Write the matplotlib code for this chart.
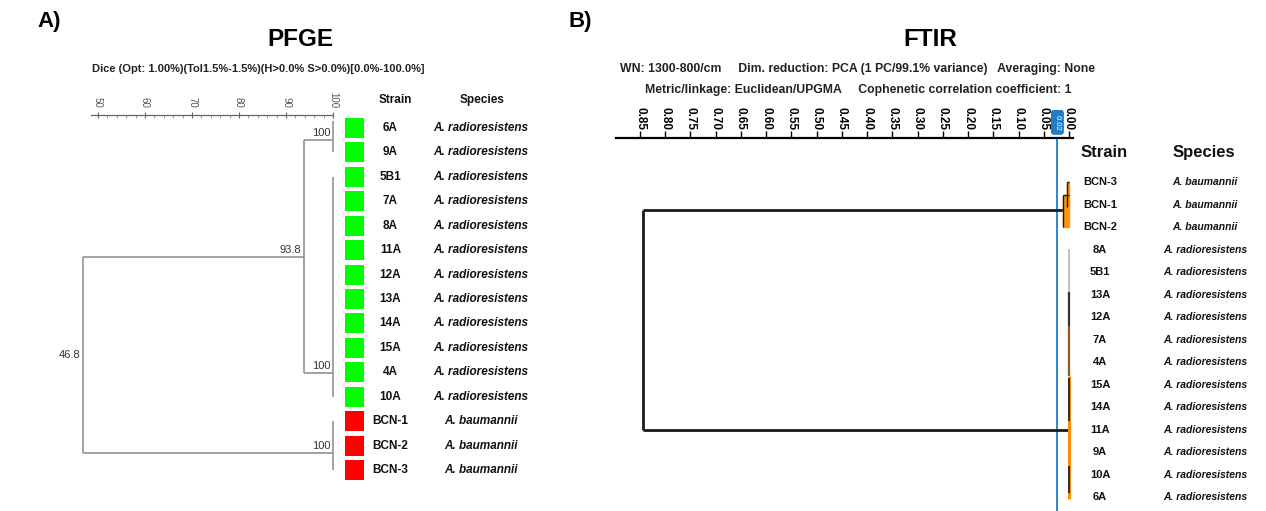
import numpy as np
import matplotlib
matplotlib.use("Agg")
import matplotlib.pyplot as plt
from matplotlib.ticker import FixedLocator

plt.rcParams['font.family'] = ['Liberation Sans', 'DejaVu Sans']

W, H = 1266, 511

# ---------------- PFGE (Dice / UPGMA) ----------------
pfge_strains = ['6A', '9A', '5B1', '7A', '8A', '11A', '12A', '13A', '14A',
                '15A', '4A', '10A', 'BCN-1', 'BCN-2', 'BCN-3']
pfge_species = ['A. radioresistens'] * 12 + ['A. baumannii'] * 3
pfge_colors = ['#00ff00'] * 12 + ['#ff0000'] * 3
pfge_ticks = [50, 60, 70, 80, 90, 100]

# tree nodes: similarity, vertical span (rows), row of link to parent, parent similarity
pfge_node_sim = [100, 100, 100, 93.8, 46.8]
pfge_node_top = [-0.3, 2.0, 12.0, 0.49, 5.28]
pfge_node_bot = [1.0, 11.0, 14.0, 10.03, 13.3]
pfge_node_link = [0.49, 10.03, 13.3, 5.28, np.nan]
pfge_node_parent = [93.8, 93.8, 46.8, 46.8, np.nan]
pfge_node_label = ['100', '100', '100', '93.8', '46.8']

# ---------------- FTIR (Euclidean / UPGMA) ----------------
ftir_strains = ['BCN-3', 'BCN-1', 'BCN-2', '8A', '5B1', '13A', '12A', '7A',
                '4A', '15A', '14A', '11A', '9A', '10A', '6A']
ftir_species = ['A. baumannii'] * 3 + ['A. radioresistens'] * 12
ftir_ticks = [0.85, 0.80, 0.75, 0.70, 0.65, 0.60, 0.55, 0.50, 0.45,
              0.40, 0.35, 0.30, 0.25, 0.20, 0.15, 0.10, 0.05, 0.00]
ftir_root = 0.845
ftir_link_rows = [1.24, 11.0]
ftir_link_dist = [0.012, 0.001]
ftir_cutoff = 0.023
# A. baumannii sub-clusters: distance, top row, bottom row
bau_dist = [0.012, 0.004]
bau_top = [0.6, 0.0]
bau_bot = [2.0, 1.1]
# A. radioresistens cluster (near zero distance) drawn as coloured segments
rad_dist = 0.0008
rad_seg_start = [3.0, 4.9, 6.4, 8.6, 8.7, 12.6]
rad_seg_end = [4.9, 6.4, 8.6, 14.1, 10.6, 13.8]
rad_seg_color = ['#b8b8b8', '#333333', '#8b5a2b', '#ff8c00', '#2a2a3a', '#2a2a3a']
rad_seg_lw = [1.2, 1.6, 1.6, 2.2, 1.4, 1.4]


def add_px_axes(fig, x0, x1, y0, y1):
    return fig.add_axes([x0 / W, 1 - y1 / H, (x1 - x0) / W, (y1 - y0) / H])


def ftext(fig, x, y, s, **kw):
    fig.text(x / W, 1 - y / H, s, **kw)


fig = plt.figure(figsize=(W / 100, H / 100), dpi=100)

# ======================= A) PFGE =======================
axA = add_px_axes(fig, 40, 545, 115, 505)
sx, s100 = 4.7, 333          # px per % and px position of 100 %
r0, rs = 128, 24.43          # px of first row and px per row
axA.set_xlim(100 - (s100 - 40) / sx, 100 + (545 - s100) / sx)
axA.set_ylim((505 - r0) / rs, (115 - r0) / rs)

rows = np.arange(len(pfge_strains))
gray = '#8a8a8a'
for s, t, b, l, p in zip(pfge_node_sim, pfge_node_top, pfge_node_bot,
                         pfge_node_link, pfge_node_parent):
    axA.vlines(s, t, b, color=gray, lw=1.1)
    if not np.isnan(l):
        axA.hlines(l, p, s, color=gray, lw=1.1)

for s, t, b, l, lab in zip(pfge_node_sim, pfge_node_top, pfge_node_bot,
                           pfge_node_link, pfge_node_label):
    if np.isnan(l):
        axA.text(s - 0.5, (t + b) / 2, lab, ha='right', va='center',
                 fontsize=8, color='#333333')
    else:
        axA.text(s - 0.6, l - 0.08, lab, ha='right', va='bottom',
                 fontsize=8, color='#333333')

axA.barh(rows, 4.05, left=102.55, height=0.82, color=pfge_colors)
for r, st, sp in zip(rows, pfge_strains, pfge_species):
    axA.text(112.2, r, st, ha='center', va='center', fontsize=8.5,
             fontweight='bold', color='#111111')
    axA.text(131.5, r, sp, ha='center', va='center', fontsize=8.5,
             fontweight='bold', style='italic', color='#111111')
axA.text(113.2, -1.15, 'Strain', ha='center', va='center', fontsize=8.5,
         fontweight='bold', color='#111111')
axA.text(131.8, -1.15, 'Species', ha='center', va='center', fontsize=8.5,
         fontweight='bold', color='#111111')

for side in ['left', 'right', 'bottom']:
    axA.spines[side].set_visible(False)
axA.spines['top'].set_bounds(48.5, 100)
axA.spines['top'].set_color('#666666')
axA.spines['top'].set_linewidth(0.9)
axA.xaxis.tick_top()
axA.xaxis.set_major_locator(FixedLocator(pfge_ticks))
axA.xaxis.set_minor_locator(FixedLocator(np.arange(50, 100, 2)))
axA.set_xticklabels([str(t) for t in pfge_ticks], rotation=270,
                    fontsize=7, color='#555555')
axA.tick_params(axis='x', which='major', direction='inout', length=4,
                color='#666666', pad=3)
axA.tick_params(axis='x', which='minor', direction='in', length=2,
                color='#888888')
axA.set_yticks([])

ftext(fig, 37, 22, 'A)', fontsize=16, fontweight='bold', va='center')
ftext(fig, 300, 39, 'PFGE', fontsize=17.5, fontweight='bold', ha='center', va='center')
ftext(fig, 258, 69, 'Dice (Opt: 1.00%)(Tol1.5%-1.5%)(H>0.0% S>0.0%)[0.0%-100.0%]',
      fontsize=8, fontweight='bold', ha='center', va='center', color='#222222')

# ======================= B) FTIR =======================
axB = add_px_axes(fig, 600, 1266, 138, 511)
d0, dx = 1069, 504.7         # px of distance 0 and px per unit
q0, qs = 182, 22.5           # px of first row and px per row
axB.set_xlim((d0 - 600) / dx, (d0 - 1266) / dx)
axB.set_ylim((511 - q0) / qs, (138 - q0) / qs)

frows = np.arange(len(ftir_strains))
axB.axvline(ftir_cutoff, color='#1f7dc9', lw=1.3, zorder=1)
axB.text(ftir_cutoff, -2.65, ' 0.02 ', rotation=270, ha='center', va='center',
         fontsize=5.5, color='white', clip_on=False,
         bbox=dict(boxstyle='round,pad=0.3', fc='#1f7dc9', ec='#1f7dc9'))

# main links
axB.vlines(ftir_root, ftir_link_rows[0], ftir_link_rows[1], color='#1a1a1a', lw=2)
for r, d in zip(ftir_link_rows, ftir_link_dist):
    axB.hlines(r, ftir_root, d, color='#1a1a1a', lw=2)

# A. baumannii sub-clusters (orange shaded)
for d, t, b in zip(bau_dist, bau_top, bau_bot):
    axB.fill_betweenx([t, b], d, 0, color='#ff9410', zorder=2)
    axB.vlines(d, t, b, color='#1a1a1a', lw=1, zorder=3)
    axB.hlines(t, d, 0, color='#1a1a1a', lw=1, zorder=3)

# A. radioresistens cluster
for a, b, c, w in zip(rad_seg_start, rad_seg_end, rad_seg_color, rad_seg_lw):
    axB.vlines(rad_dist, a, b, color=c, lw=w, zorder=3)

for r, st, sp in zip(frows, ftir_strains, ftir_species):
    axB.text(-0.0614, r, st, ha='center', va='center', fontsize=8,
             fontweight='bold', color='#111111')
    axB.text(-0.2695, r, sp, ha='center', va='center', fontsize=7.5,
             fontweight='bold', style='italic', color='#111111')
axB.text(-0.0690, -1.33, 'Strain', ha='center', va='center', fontsize=12,
         fontweight='bold', color='#111111')
axB.text(-0.2680, -1.33, 'Species', ha='center', va='center', fontsize=12,
         fontweight='bold', color='#111111')

for side in ['left', 'right', 'bottom']:
    axB.spines[side].set_visible(False)
axB.spines['top'].set_bounds(-0.008, 0.898)
axB.spines['top'].set_linewidth(1.6)
axB.xaxis.tick_top()
axB.set_xticks(ftir_ticks)
axB.set_xticklabels(['%.2f' % t for t in ftir_ticks], rotation=270,
                    fontsize=8.5, fontweight='bold')
axB.tick_params(axis='x', direction='out', length=5, width=1, pad=1)
axB.set_yticks([])

ftext(fig, 568, 22, 'B)', fontsize=16, fontweight='bold', va='center')
ftext(fig, 930, 39, 'FTIR', fontsize=17.5, fontweight='bold', ha='center', va='center')
ftext(fig, 858, 69, 'WN: 1300-800/cm     Dim. reduction: PCA (1 PC/99.1% variance)   Averaging: None',
      fontsize=8.8, fontweight='bold', ha='center', va='center', color='#222222')
ftext(fig, 858, 90, 'Metric/linkage: Euclidean/UPGMA     Cophenetic correlation coefficient: 1',
      fontsize=8.8, fontweight='bold', ha='center', va='center', color='#222222')

fig.savefig('out.png', dpi=100)
